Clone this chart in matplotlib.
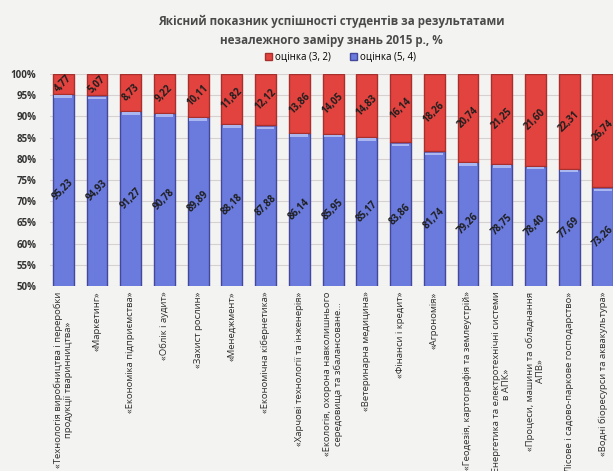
import matplotlib
matplotlib.use("Agg")
import matplotlib.pyplot as plt
import numpy as np
from matplotlib.patches import Patch

plt.rcParams['font.family'] = ['Open Sans', 'DejaVu Sans']

# дані з діаграми
specialties = [
    "«Технологія виробництва і переробки\nпродукції тваринництва»",
    "«Маркетинг»",
    "«Економіка підприємства»",
    "«Облік і аудит»",
    "«Захист рослин»",
    "«Менеджмент»",
    "«Економічна кібернетика»",
    "«Харчові технології та інженерія»",
    "«Екологія, охорона навколишнього\nсередовища та збалансоване...",
    "«Ветеринарна медицина»",
    "«Фінанси і кредит»",
    "«Агрономія»",
    "«Геодезія, картографія та землеустрій»",
    "«Енергетика та електротехнічні системи\nв АПК»",
    "«Процеси, машини та обладнання\nАПВ»",
    "«Лісове і садово-паркове господарство»",
    "«Водні біоресурси та аквакультура»",
]
grade_54 = [95.23, 94.93, 91.27, 90.78, 89.89, 88.18, 87.88, 86.14, 85.95,
            85.17, 83.86, 81.74, 79.26, 78.75, 78.40, 77.69, 73.26]
grade_32 = [4.77, 5.07, 8.73, 9.22, 10.11, 11.82, 12.12, 13.86, 14.05,
            14.83, 16.14, 18.26, 20.74, 21.25, 21.60, 22.31, 26.74]

red = "#E2433F"
blue = "#6A7BDD"
bg = "#F3F3F1"

fig = plt.figure(figsize=(6.13, 4.71), dpi=100, facecolor=bg)
ax = fig.add_axes([0.082, 0.393, 0.918, 0.45], facecolor=bg)

x = np.arange(len(specialties))
w = 0.62
ax.bar(x, grade_54, width=w, color=blue, edgecolor="#45479A", linewidth=1.0, zorder=3)
ax.bar(x, grade_32, width=w, bottom=grade_54, color=red, edgecolor="#A8302C",
       linewidth=1.0, zorder=3)

# світла смужка вгорі синього стовпчика
ax.bar(x, [0.6] * len(x), width=w * 0.85, bottom=np.array(grade_54) - 0.9,
       color="#A9B6F0", linewidth=0, zorder=4)

ax.set_ylim(50, 100)
ax.set_xlim(-0.385, len(x) - 1 + 0.3)
ax.set_yticks(np.arange(50, 101, 5))
ax.set_yticklabels([f"{v}%" for v in range(50, 101, 5)], fontsize=7,
                   fontweight="bold", color="#333333")
ax.yaxis.grid(True, color="#D6D0D0", linewidth=0.8, zorder=0)
ax.tick_params(axis="y", length=0, pad=10)
ax.tick_params(axis="x", length=0, pad=4)
for s in ax.spines.values():
    s.set_visible(False)

ax.set_xticks(x)
ax.set_xticklabels(specialties, rotation=90, fontsize=6.8, color="#2E2E2E",
                   va="top", ha="center", multialignment="center")

for i in range(len(x)):
    ax.text(x[i], (50 + grade_54[i]) / 2, f"{grade_54[i]:.2f}".replace(".", ","),
            rotation=45, ha="center", va="center", fontsize=7,
            fontweight="bold", color="#1E1E1E", zorder=5)
    ax.text(x[i], grade_54[i] + grade_32[i] / 2, f"{grade_32[i]:.2f}".replace(".", ","),
            rotation=45, ha="center", va="center", fontsize=7,
            fontweight="bold", color="#1E1E1E", zorder=5)

fig.text(0.54, 0.935, "Якісний показник успішності студентів за результатами\n"
         "незалежного заміру знань 2015 р., %", ha="center", va="center",
         fontsize=8.4, fontweight="bold", color="#4A4A4A", linespacing=1.6)

handles = [Patch(facecolor=red, edgecolor="#A8302C"),
           Patch(facecolor=blue, edgecolor="#45479A")]
fig.legend(handles, ["оцінка (3, 2)", "оцінка (5, 4)"], loc="center",
           bbox_to_anchor=(0.555, 0.878), ncol=2, frameon=False, fontsize=7,
           handlelength=0.7, handleheight=0.7, handletextpad=0.3, columnspacing=2.0)

fig.savefig("out.png", dpi=100, facecolor=bg)
